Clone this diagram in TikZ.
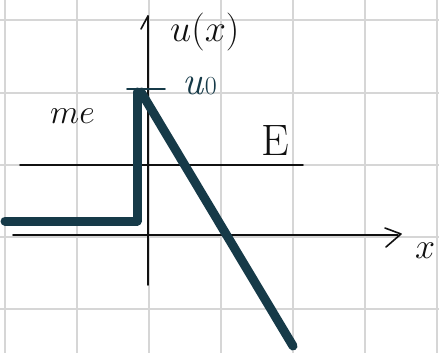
\RequirePackage{fix-cm}
\documentclass[tikz,border=0pt]{standalone}
\definecolor{gridline}{HTML}{D6D6D6}
\definecolor{pot}{HTML}{163A48}
\definecolor{ink}{HTML}{111111}

\begin{document}
\begin{tikzpicture}[
  x=1pt, y=-1pt,
  line join=round, line cap=round,
  gridl/.style={gridline, line width=2pt},
  axis/.style={ink, line width=1.6pt},
  potline/.style={pot, line width=9pt},
  lbl/.style={ink, inner sep=0pt},
]
\useasboundingbox (0,0) rectangle (439,353);
\fill[white] (0,0) rectangle (439,353);

% ── squared paper ─────────────────────────────────────────────────────────
\foreach \gx in {5,77,149,221,293,365,437}
  \draw[gridl] (\gx,0) -- (\gx,353);
\foreach \gy in {20.5,92.5,164.5,236.5,308.5}
  \draw[gridl] (0,\gy) -- (439,\gy);

% ── axes, with the hand-drawn tips ────────────────────────────────────────
\draw[axis] (148,285) -- (148,16);
\draw[axis] (141,29) -- (148,16);               % tip of u
\draw[axis] (13,235) -- (398,235);
\draw[axis] (385,228) -- (401,234) -- (386,247); % tip of x

% ── the level E and the mark for u0 ───────────────────────────────────────
\draw[axis] (20,165) -- (303,165);
\draw[pot, line width=1.6pt] (127,89) -- (165,89);

% ── the potential: a step, then the wall falling off ──────────────────────
\draw[potline] (5,221) -- (137,221) -- (137,92);
\draw[potline] (141,92) -- (293,346);

% ── labels ────────────────────────────────────────────────────────────────
\node[lbl, anchor=base west] (ulabel) at (170,42) {\fontsize{38}{40}\selectfont $u(x)$};
\node[lbl, anchor=base west, text=pot] (uzero) at (182,95)
  {{\fontsize{40}{40}\selectfont\itshape u}\,{\fontsize{26}{26}\selectfont 0}};
\node[lbl, anchor=base west] (melabel) at (50,123) {\fontsize{34}{36}\selectfont $me$};
\node[lbl, anchor=base west] (elabel) at (261,155) {\fontsize{44}{46}\selectfont E};
\node[lbl, anchor=base west] (xlabel) at (415,258) {\fontsize{36}{38}\selectfont $x$};

\end{tikzpicture}
\end{document}
